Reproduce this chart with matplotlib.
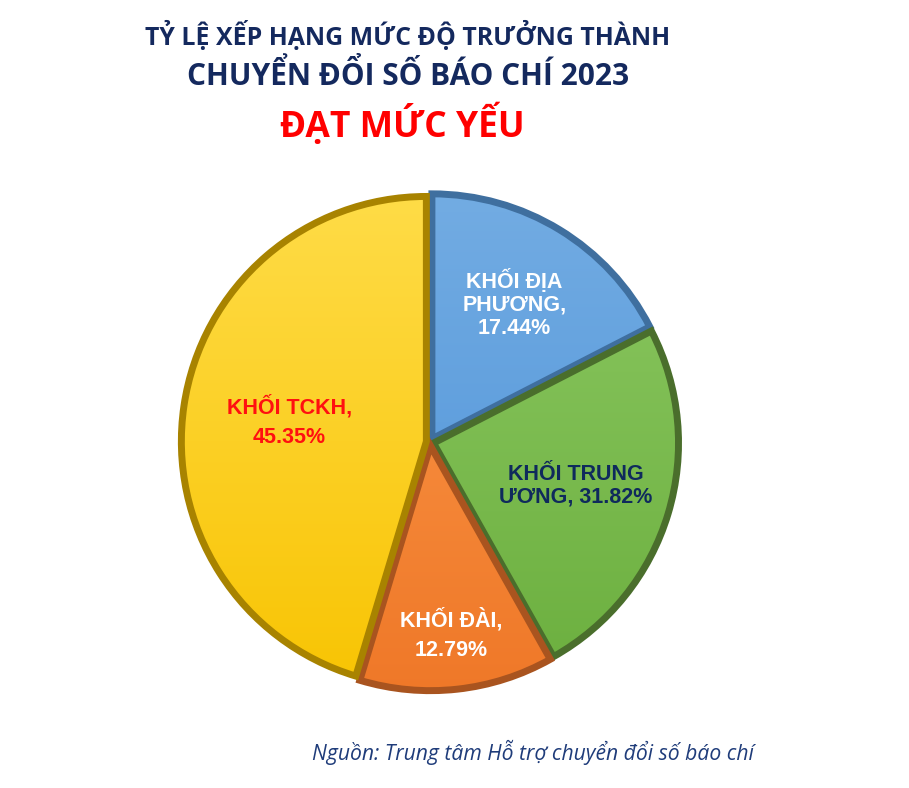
import numpy as np
import matplotlib.pyplot as plt
from matplotlib.colors import LinearSegmentedColormap

# data (green wedge is drawn ~24.4% although its label says 31.82%)
names = ["KHỐI ĐỊA\nPHƯƠNG,\n17.44%", "KHỐI TRUNG\nƯƠNG, 31.82%", "KHỐI ĐÀI,\n12.79%", "KHỐI TCKH,\n45.35%"]
sizes = [17.44, 24.42, 12.79, 45.35]
top_cols = ["#74ADE3", "#8DC963", "#FB9A4C", "#FFDD4A"]
bot_cols = ["#4B91D8", "#6AAE3D", "#EF7727", "#F8C300"]
edge_cols = ["#3F6F9F", "#4A6E2C", "#A9541F", "#A88300"]
text_cols = ["white", "#0F2A5C", "white", "#FF1010"]

fig = plt.figure(figsize=(9.09, 7.88), dpi=100)
fig.patch.set_facecolor("white")

r_px = 245
ax_w = 2.2 * r_px
ax = fig.add_axes([(430 - ax_w / 2) / 909, (346 - ax_w / 2) / 788, ax_w / 909, ax_w / 788])

wedges, _ = ax.pie(sizes, startangle=90, counterclock=False, explode=[0.015] * 4,
                   colors=bot_cols, wedgeprops=dict(linewidth=5, joinstyle="miter"))

grad = np.linspace(1, 0, 256).reshape(-1, 1)
for w, tc, bc, ec in zip(wedges, top_cols, bot_cols, edge_cols):
    w.set_edgecolor(ec)
    cmap = LinearSegmentedColormap.from_list("g", [bc, tc])
    im = ax.imshow(grad, cmap=cmap, extent=[-1.1, 1.1, -1.1, 1.1], origin="upper",
                   aspect="auto", zorder=1)
    im.set_clip_path(w)
    w.set_facecolor("none")
    w.set_zorder(2)

ax.set_xlim(-1.1, 1.1)
ax.set_ylim(-1.1, 1.1)
ax.set_aspect("equal")
ax.axis("off")

# label placement along each wedge's middle angle
label_r = [0.66, 0.62, 0.79, 0.58]
label_ls = [1.1, 1.1, 1.5, 1.5]
for w, txt, tcol, rr, ls in zip(wedges, names, text_cols, label_r, label_ls):
    mid = np.deg2rad((w.theta1 + w.theta2) / 2)
    ax.text(rr * np.cos(mid), rr * np.sin(mid), txt, ha="center", va="center",
            color=tcol, fontsize=15.5, fontweight="bold", family="Liberation Sans",
            linespacing=ls, zorder=5)

navy = "#14295E"
fig.text(0.448, 1 - 36 / 788, "TỶ LỆ XẾP HẠNG MỨC ĐỘ TRƯỞNG THÀNH", ha="center", va="center",
         color=navy, fontsize=17.9, fontweight="bold", family="Open Sans")
fig.text(0.449, 1 - 76 / 788, "CHUYỂN ĐỔI SỐ BÁO CHÍ 2023", ha="center", va="center",
         color=navy, fontsize=21.5, fontweight="bold", family="Open Sans")
fig.text(0.443, 1 - 125 / 788, "ĐẠT MỨC YẾU", ha="center", va="center",
         color="#FF0000", fontsize=25.5, fontweight="bold", family="Open Sans")

fig.text(312 / 909, 1 - 752 / 788, "Nguồn: Trung tâm Hỗ trợ chuyển đổi số báo chí", ha="left",
         va="center", color="#1F3C7A", fontsize=15.2, style="italic", family="Open Sans")

fig.savefig("out.png", dpi=100)
